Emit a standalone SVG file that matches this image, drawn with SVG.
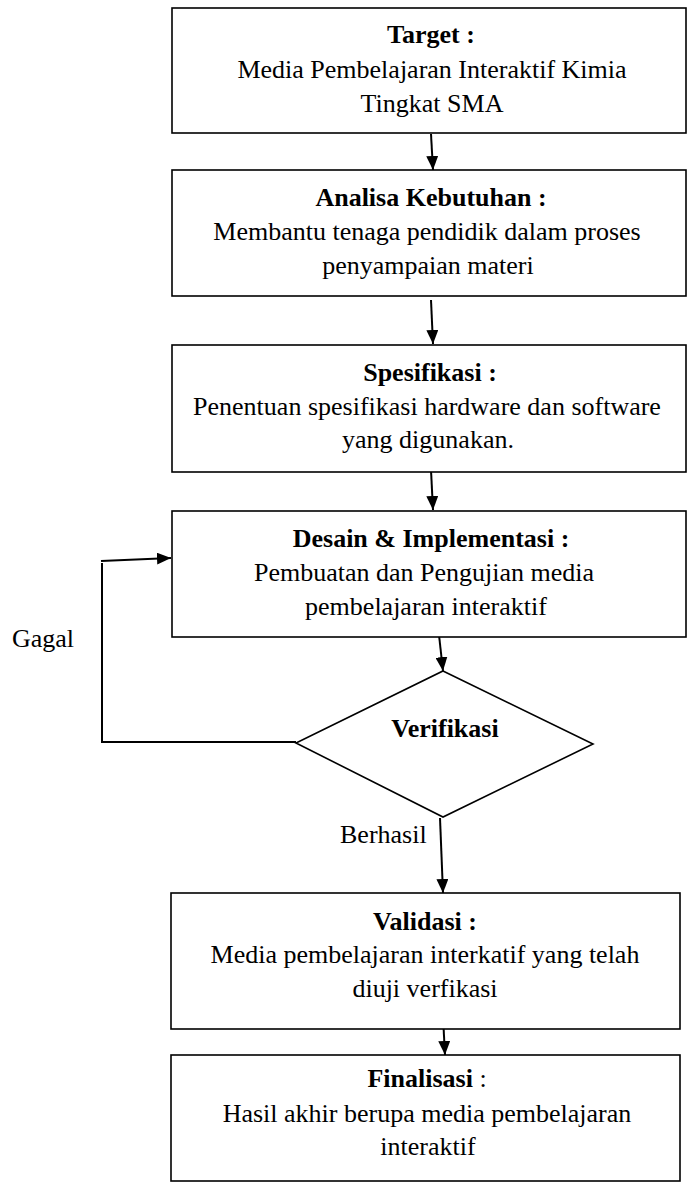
<svg xmlns="http://www.w3.org/2000/svg" width="688" height="1184" viewBox="0 0 688 1184">
<defs>
<style>
.box{fill:#fff;stroke:#000;stroke-width:1.6}
.t{font-family:"Liberation Serif","Times New Roman",serif;font-size:26px;fill:#000;text-anchor:middle}
.b{font-weight:bold}
.lbl{font-family:"Liberation Serif","Times New Roman",serif;font-size:26px;fill:#000}
.c{fill:none;stroke:#000;stroke-width:2}
</style>
<marker id="ah" markerUnits="userSpaceOnUse" markerWidth="14" markerHeight="12" refX="14" refY="6" orient="auto">
<path d="M0,0 L14,6 L0,12 z" fill="#000"/>
</marker>
</defs>
<rect width="688" height="1184" fill="#fff"/>
<g id="connectors">
<line class="c" x1="431" y1="134" x2="433" y2="170" marker-end="url(#ah)"/>
<line class="c" x1="431" y1="300" x2="433" y2="344" marker-end="url(#ah)"/>
<line class="c" x1="431" y1="470" x2="433" y2="510" marker-end="url(#ah)"/>
<line class="c" x1="439" y1="635" x2="443" y2="671" marker-end="url(#ah)"/>
<line class="c" x1="440" y1="818" x2="443" y2="893" marker-end="url(#ah)"/>
<line class="c" x1="443" y1="1017" x2="445" y2="1055" marker-end="url(#ah)"/>
<polyline class="c" points="296,742 102,742 102,563"/>
<line class="c" x1="101" y1="561" x2="171" y2="558" marker-end="url(#ah)"/>
<text class="lbl" x="12" y="647">Gagal</text>
<text class="lbl" x="340" y="843">Berhasil</text>
</g>
<g id="target">
<rect class="box" x="172" y="8" width="514" height="125"/>
<text class="t b" x="431" y="43">Target :</text>
<text class="t" x="432" y="78">Media Pembelajaran Interaktif Kimia</text>
<text class="t" x="432" y="112">Tingkat SMA</text>
</g>
<g id="analisa">
<rect class="box" x="172" y="170" width="514" height="126"/>
<text class="t b" x="431" y="206">Analisa Kebutuhan :</text>
<text class="t" x="427" y="240">Membantu tenaga pendidik dalam proses</text>
<text class="t" x="428" y="274">penyampaian materi</text>
</g>
<g id="spesifikasi">
<rect class="box" x="172" y="345" width="514" height="127"/>
<text class="t b" x="430" y="381">Spesifikasi :</text>
<text class="t" x="427" y="415">Penentuan spesifikasi hardware dan software</text>
<text class="t" x="428" y="448">yang digunakan.</text>
</g>
<g id="desain">
<rect class="box" x="172" y="511" width="514" height="126"/>
<text class="t b" x="431" y="547">Desain &amp; Implementasi :</text>
<text class="t" x="424" y="581">Pembuatan dan Pengujian media</text>
<text class="t" x="426" y="615">pembelajaran interaktif</text>
</g>
<g id="verifikasi">
<polygon class="box" points="443,671 593,744 443,817 296,743"/>
<text class="t b" x="445" y="737">Verifikasi</text>
</g>
<g id="validasi">
<rect class="box" x="171" y="893" width="509" height="136"/>
<text class="t b" x="425" y="930">Validasi :</text>
<text class="t" x="425" y="963">Media pembelajaran interkatif yang telah</text>
<text class="t" x="425" y="997">diuji verfikasi</text>
</g>
<g id="finalisasi">
<rect class="box" x="171" y="1055" width="509" height="126"/>
<text class="t" x="427" y="1087"><tspan class="b">Finalisasi</tspan> :</text>
<text class="t" x="427" y="1122">Hasil akhir berupa media pembelajaran</text>
<text class="t" x="428" y="1155">interaktif</text>
</g>
</svg>
